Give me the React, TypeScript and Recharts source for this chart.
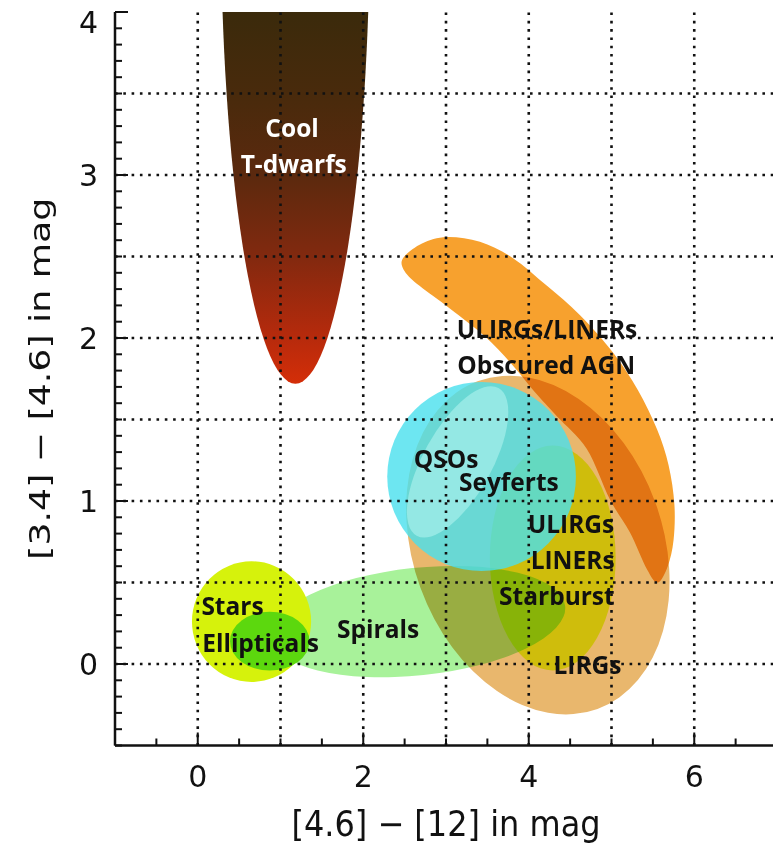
import React from "react";
import { ComposedChart, XAxis, YAxis, Scatter, ReferenceArea, ReferenceLine } from "recharts";

// axis ranges, labelled ticks and dotted grid positions
const X_DOMAIN = [-1, 7];
const Y_DOMAIN = [-0.5, 4];
const xLabels = [0, 2, 4, 6];
const yLabels = [0, 1, 2, 3, 4];
const xGrid = [0, 1, 2, 3, 4, 5, 6];
const yGrid = [0, 0.5, 1, 1.5, 2, 2.5, 3, 3.5];

// minor tick marks (every 0.5 on x, every 0.1 on y)
const range = (from: number, to: number, step: number) => {
    const out: number[] = [];
    for (let i = Math.round(from / step); i <= Math.round(to / step); i++) out.push(Math.round(i * step * 100) / 100);
    return out;
};
const xTicks = range(-1, 7, 0.5);
const yTicks = range(-0.5, 4, 0.1);

// ellipse regions: centre, half-axes (data units, before tilt), tilt in screen degrees
const lirgs = { cx: 4.11, cy: 0.73, rx: 1.51, ry: 1.07, tilt: -20 };
const ulirgStarburst = { cx: 4.29, cy: 0.65, rx: 0.76, ry: 0.69, tilt: 0 };
const spirals = { cx: 2.66, cy: 0.26, rx: 1.79, ry: 0.33, tilt: -6 };
const stars = { cx: 0.65, cy: 0.26, rx: 0.72, ry: 0.37, tilt: 0 };
const ellipticals = { cx: 0.87, cy: 0.14, rx: 0.48, ry: 0.18, tilt: 0 };
const qsos = { cx: 3.43, cy: 1.15, rx: 1.14, ry: 0.58, tilt: 0 };
const seyfertLens = { cx: 3.14, cy: 1.24, rx: 1.02, ry: 0.21, tilt: -61 };
const coolDwarfs = { cx: 1.18, cy: 4.6, rx: 0.9, ry: 2.88, tilt: 0 };

// outline of the curved ULIRGs/LINERs/Obscured AGN region
const obscuredAgn = [
    { x: 2.48, y: 2.49 }, { x: 2.71, y: 2.58 }, { x: 3.01, y: 2.62 }, { x: 3.41, y: 2.59 },
    { x: 3.81, y: 2.49 }, { x: 4.22, y: 2.32 }, { x: 4.62, y: 2.14 }, { x: 5.02, y: 1.91 },
    { x: 5.32, y: 1.68 }, { x: 5.55, y: 1.44 }, { x: 5.69, y: 1.22 }, { x: 5.76, y: 0.98 },
    { x: 5.75, y: 0.76 }, { x: 5.68, y: 0.6 }, { x: 5.56, y: 0.5 }, { x: 5.43, y: 0.58 },
    { x: 5.22, y: 0.81 }, { x: 4.98, y: 1.01 }, { x: 4.7, y: 1.32 }, { x: 4.34, y: 1.52 },
    { x: 4.07, y: 1.67 }, { x: 3.81, y: 1.83 }, { x: 3.47, y: 2.01 }, { x: 3.05, y: 2.18 },
    { x: 2.68, y: 2.32 }, { x: 2.5, y: 2.41 },
];

// region names
const labelText = ["Cool", "T-dwarfs", "ULIRGs/LINERs", "Obscured AGN", "QSOs", "Seyferts", "ULIRGs", "LINERs", "Starburst", "LIRGs", "Stars", "Ellipticals", "Spirals"];
const labelX = [1.14, 1.16, 4.22, 4.21, 3.0, 3.76, 4.51, 4.53, 4.34, 4.71, 0.42, 0.76, 2.18];
const labelY = [3.29, 3.07, 2.06, 1.84, 1.26, 1.12, 0.86, 0.64, 0.42, 0.0, 0.36, 0.13, 0.22];
const labels = labelText.map((text, i) => ({ x: labelX[i], y: labelY[i], text, light: i < 2 }));

const INK = "#111";
const AXIS_FONT = "DejaVu Sans";

type Ellipse = { cx: number; cy: number; rx: number; ry: number; tilt: number };

const ellipseShape = (fill: string, opacity = 1, blend?: string) => (p: any) => {
    const cx = p.x + p.width / 2;
    const cy = p.y + p.height / 2;
    return (
        <ellipse
            cx={cx} cy={cy} rx={Math.abs(p.width) / 2} ry={Math.abs(p.height) / 2}
            transform={`rotate(${p.tilt ?? 0} ${cx} ${cy})`}
            fill={fill} fillOpacity={opacity}
            style={blend ? { mixBlendMode: blend as any } : undefined}
        />
    );
};

const dwarfShape = (p: any) => {
    const cx = p.x + p.width / 2;
    const cy = p.y + p.height / 2;
    return (
        <g clipPath={p.clipPath}>
            <defs>
                <linearGradient id="dwarfGrad" x1="0" y1="0" x2="0" y2="1">
                    <stop offset="0.6" stopColor="#3a2a0b" />
                    <stop offset="0.7" stopColor="#4a2a0c" />
                    <stop offset="0.78" stopColor="#5c290e" />
                    <stop offset="0.865" stopColor="#82290f" />
                    <stop offset="0.95" stopColor="#b62a0c" />
                    <stop offset="1" stopColor="#d42e08" />
                </linearGradient>
            </defs>
            <ellipse cx={cx} cy={cy} rx={p.width / 2} ry={p.height / 2} fill="url(#dwarfGrad)" />
        </g>
    );
};

function region(e: Ellipse, shape: any, z: number, overflow: "visible" | "hidden" = "visible") {
    return (
        <ReferenceArea
            x1={e.cx - e.rx} x2={e.cx + e.rx} y1={e.cy - e.ry} y2={e.cy + e.ry}
            ifOverflow={overflow}
            shape={(p: any) => shape({ ...p, tilt: e.tilt })}
            zIndex={z}
        />
    );
}

// smooth closed outline through the points
function closedCurve(pts: { x: number; y: number }[]) {
    const n = pts.length;
    let d = `M${pts[0].x},${pts[0].y}`;
    for (let i = 0; i < n; i++) {
        const p0 = pts[(i - 1 + n) % n], p1 = pts[i], p2 = pts[(i + 1) % n], p3 = pts[(i + 2) % n];
        d += ` C${p1.x + (p2.x - p0.x) / 6},${p1.y + (p2.y - p0.y) / 6} ${p2.x - (p3.x - p1.x) / 6},${p2.y - (p3.y - p1.y) / 6} ${p2.x},${p2.y}`;
    }
    return d + "Z";
}

const BottomTick = (p: any) => {
    const v = p.payload.value;
    const major = xLabels.includes(v);
    return (
        <g>
            <line x1={p.x} x2={p.x} y1={p.y} y2={p.y - (major ? 13 : 7)} stroke={INK} strokeWidth={2} />
            {major && (
                <text x={p.x} y={p.y + 31} textAnchor="middle" dominantBaseline="central" fontFamily={AXIS_FONT} fontSize={30} fill={INK}>{v}</text>
            )}
        </g>
    );
};

const TopTick = (p: any) => {
    const major = xLabels.includes(p.payload.value);
    return <line x1={p.x} x2={p.x} y1={p.y} y2={p.y + (major ? 13 : 7)} stroke={INK} strokeWidth={2} />;
};

const LeftTick = (p: any) => {
    const v = p.payload.value;
    const major = yLabels.includes(v);
    return (
        <g>
            <line x1={p.x} x2={p.x + (major ? 13 : 7)} y1={p.y} y2={p.y} stroke={INK} strokeWidth={2} />
            {major && (
                <text x={p.x - 17} y={p.y + (v === 4 ? 10 : 0)} textAnchor="end" dominantBaseline="central" fontFamily={AXIS_FONT} fontSize={30} fill={INK}>{v}</text>
            )}
        </g>
    );
};

const RightTick = (p: any) => {
    const major = yLabels.includes(p.payload.value);
    return <line x1={p.x} x2={p.x - (major ? 13 : 7)} y1={p.y} y2={p.y} stroke={INK} strokeWidth={2} />;
};

const axisLine = { stroke: INK, strokeWidth: 2.5 };
const gridStyle = { stroke: INK, strokeWidth: 2.6, strokeDasharray: "2.6 5.7" };

export default function App() {
    return (
        <div style={{ position: "fixed", left: 0, top: 0, width: 773, height: 846, overflow: "hidden", background: "#fff" }}>
            <ComposedChart width={790} height={846} margin={{ top: 12, right: 13, bottom: 0, left: 0 }}>
                {region(lirgs, ellipseShape("#e9b76d"), 101)}
                {region(ulirgStarburst, ellipseShape("#cfbd0c"), 102)}
                {region(spirals, ellipseShape("#a8f29a", 1, "multiply"), 103)}
                {region(stars, ellipseShape("#d6f20c"), 104)}
                {region(ellipticals, ellipseShape("#5cd80e"), 105)}
                <Scatter
                    data={obscuredAgn}
                    isAnimationActive={false}
                    shape={() => <g />}
                    lineType="joint"
                    line={(lp: any) => <path d={closedCurve(lp.points)} fill="#f7a12e" style={{ mixBlendMode: "multiply" }} />}
                    zIndex={106}
                />
                {region(qsos, ellipseShape("#48e0ee", 0.8), 107)}
                {region(seyfertLens, ellipseShape("#b0f4ee", 0.6), 108)}
                {region(coolDwarfs, dwarfShape, 109, "hidden")}

                {xGrid.map((v) => (
                    <ReferenceLine key={`gx${v}`} x={v} {...gridStyle} zIndex={700} />
                ))}
                {yGrid.map((v) => (
                    <ReferenceLine key={`gy${v}`} y={v} {...gridStyle} zIndex={700} />
                ))}

                <Scatter
                    data={labels}
                    isAnimationActive={false}
                    zIndex={800}
                    shape={(p: any) => (
                        <text
                            x={p.cx} y={p.cy} textAnchor="middle" dominantBaseline="central"
                            fontFamily="Open Sans" fontWeight={700} fontSize={24.5}
                            fill={p.payload.light ? "#fff" : INK}
                        >
                            {p.payload.text}
                        </text>
                    )}
                />

                <XAxis
                    xAxisId={0} dataKey="x" type="number" domain={X_DOMAIN}
                    ticks={xTicks} interval={0} height={100.5} tickSize={0} tickMargin={0} tickLine={false}
                    axisLine={axisLine} tick={BottomTick} zIndex={900}
                    label={{
                        content: (lp: any) => {
                            const vb = lp.viewBox || {};
                            const cx = vb.x + vb.width / 2;
                            return (
                                <text transform={`translate(${cx},${vb.y + 78}) scale(1,1.1)`} textAnchor="middle" dominantBaseline="central" fontFamily={AXIS_FONT} fontSize={32} fill={INK}>
                                    [4.6] − [12] in mag
                                </text>
                            );
                        },
                    }}
                />
                <XAxis
                    xAxisId="top" orientation="top" dataKey="x" type="number" domain={X_DOMAIN}
                    ticks={xTicks} interval={0} height={0} tickSize={0} tickMargin={0} tickLine={false}
                    axisLine={axisLine} tick={TopTick} zIndex={900}
                />
                <YAxis
                    yAxisId={0} dataKey="y" type="number" domain={Y_DOMAIN}
                    ticks={yTicks} interval={0} width={115} tickSize={0} tickMargin={0} tickLine={false}
                    axisLine={axisLine} tick={LeftTick} zIndex={900}
                    label={{
                        content: (lp: any) => {
                            const vb = lp.viewBox || {};
                            const cy = vb.y + vb.height / 2;
                            return (
                                <text transform={`translate(40,${cy}) rotate(-90) scale(1.25,1)`} textAnchor="middle" dominantBaseline="central" fontFamily={AXIS_FONT} fontSize={29} fill={INK}>
                                    [3.4] − [4.6] in mag
                                </text>
                            );
                        },
                    }}
                />
                <YAxis
                    yAxisId="right" orientation="right" dataKey="y" type="number" domain={Y_DOMAIN}
                    ticks={yTicks} interval={0} width={0} tickSize={0} tickMargin={0} tickLine={false}
                    axisLine={axisLine} tick={RightTick} zIndex={900}
                />
            </ComposedChart>
        </div>
    );
}
